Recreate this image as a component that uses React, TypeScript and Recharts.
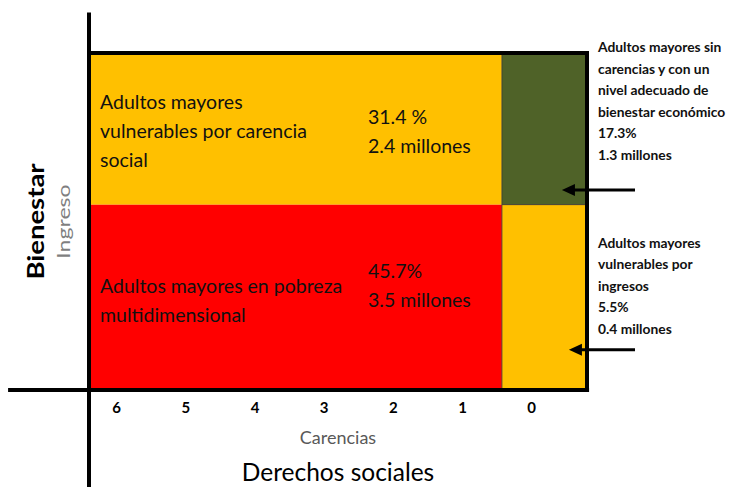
import React from "react";
import {
  ScatterChart,
  XAxis,
  YAxis,
  ReferenceArea,
  ReferenceLine,
} from "recharts";

// eje de carencias sociales (de 6 a 0)
const carencias = [6, 5, 4, 3, 2, 1, 0];
const dominioCarencias: [number, number] = [-0.8, 6.4];
const corteCarencias = 0.43; // entre 1 y 0 carencias
const lineaBienestar = 55; // ingreso: línea de bienestar económico

const grupos = [
  ["Adultos mayores", "vulnerables por carencia", "social"],
  ["Adultos mayores en pobreza", "multidimensional"],
  ["Adultos mayores sin", "carencias y con un", "nivel adecuado de", "bienestar económico"],
  ["Adultos mayores", "vulnerables por", "ingresos"],
];
const porcentajes = ["31.4 %", "45.7%", "17.3%", "5.5%"];
const millones = ["2.4 millones", "3.5 millones", "1.3 millones", "0.4 millones"];
const conCarencias = [true, true, false, false];
const bajoLinea = [false, true, false, true];
const colores = ["#FFC000", "#FF0000", "#4F6228", "#FFC000"];

const FONT = "Lato, 'Open Sans', sans-serif";

// offsets de texto dentro de cada celda
const layoutInterior = [
  { titulo: 56, pct: 71 },
  { titulo: 88, pct: 73 },
];
// anotaciones fuera del recuadro (texto + flecha)
const layoutExterior = [
  { texto: -1, flecha: 137, punta: 60 },
  { texto: 43, flecha: 145, punta: 67 },
];

function CeldaTexto({ viewBox, i }: any) {
  const { x, y, width } = viewBox;
  if (i < 2) {
    const l = layoutInterior[i];
    return (
      <g fontFamily={FONT} fontSize={19.5} fill="#111">
        {grupos[i].map((t, k) => (
          <text key={k} x={x + 11} y={y + l.titulo + k * 29}>
            {t}
          </text>
        ))}
        <text x={x + 279} y={y + l.pct}>
          {porcentajes[i]}
        </text>
        <text x={x + 279} y={y + l.pct + 29}>
          {millones[i]}
        </text>
      </g>
    );
  }
  const l = layoutExterior[i - 2];
  const lineas = [...grupos[i], porcentajes[i], millones[i]];
  const tx = x + width + 11;
  const ay = y + l.flecha;
  const tip = x + l.punta;
  const tail = x + width + 48;
  return (
    <g fontFamily={FONT} fontSize={13.8} fontWeight={700} fill="#111">
      {lineas.map((t, k) => (
        <text key={k} x={tx} y={y + l.texto + k * 21.6}>
          {t}
        </text>
      ))}
      <line x1={tail} y1={ay} x2={tip + 8} y2={ay} stroke="#000" strokeWidth={3} />
      <polygon
        points={`${tip},${ay} ${tip + 13},${ay - 6} ${tip + 13},${ay + 6}`}
        fill="#000"
      />
    </g>
  );
}

function TitulosX({ viewBox }: any) {
  const cx = viewBox.x + viewBox.width / 2;
  return (
    <g fontFamily={FONT} textAnchor="middle">
      <text x={cx} y={viewBox.y + 54} fontSize={18} fill="#595959">
        Carencias
      </text>
      <text x={cx} y={viewBox.y + 91} fontSize={24.5} fill="#000">
        Derechos sociales
      </text>
    </g>
  );
}

function TitulosY({ viewBox }: any) {
  const cy = viewBox.y + viewBox.height / 2;
  return (
    <g fontFamily={FONT} textAnchor="middle">
      <text
        x={0}
        y={0}
        fontSize={22}
        fontWeight={700}
        fill="#000"
        transform={`translate(44, ${cy}) rotate(-90) scale(1.25, 1)`}
      >
        Bienestar
      </text>
      <text
        x={0}
        y={0}
        fontSize={17.5}
        fill="#7f7f7f"
        transform={`translate(70, ${cy}) rotate(-90) scale(1.32, 1)`}
      >
        Ingreso
      </text>
    </g>
  );
}

export default function App() {
  const [xMin, xMax] = dominioCarencias;
  return (
    <div style={{ position: "absolute", left: 0, top: 0, background: "#fff" }}>
      <ScatterChart
        width={731}
        height={487}
        margin={{ top: 53, right: 144, bottom: 0, left: 0 }}
      >
        <XAxis
          type="number"
          dataKey="x"
          domain={dominioCarencias}
          reversed
          ticks={carencias}
          allowDataOverflow
          axisLine={false}
          tickLine={false}
          tickMargin={6}
          height={97}
          tick={{ fontSize: 15, fontWeight: 700, fill: "#000", fontFamily: FONT }}
          label={(p: any) => <TitulosX viewBox={p.viewBox} />}
        />
        <YAxis
          type="number"
          dataKey="y"
          domain={[0, 100]}
          allowDataOverflow
          width={89}
          tick={false}
          axisLine={false}
          tickLine={false}
          label={(p: any) => <TitulosY viewBox={p.viewBox} />}
        />
        {grupos.map((_, i) => (
          <ReferenceArea
            key={i}
            x1={conCarencias[i] ? xMax : corteCarencias}
            x2={conCarencias[i] ? corteCarencias : xMin}
            y1={bajoLinea[i] ? 0 : lineaBienestar}
            y2={bajoLinea[i] ? lineaBienestar : 100}
            fill={colores[i]}
            fillOpacity={1}
            stroke={conCarencias[i] ? "none" : "#3a3a3a"}
            strokeWidth={0.8}
            label={(p: any) => <CeldaTexto viewBox={p.viewBox} i={i} />}
          />
        ))}
        <ReferenceArea
          x1={xMax}
          x2={xMin}
          y1={0}
          y2={100}
          fill="none"
          stroke="#000"
          strokeWidth={4}
        />
        <ReferenceLine
          segment={[
            { x: xMax, y: 112 },
            { x: xMax, y: -29 },
          ]}
          stroke="#000"
          strokeWidth={4}
          ifOverflow="visible"
        />
        <ReferenceLine
          segment={[
            { x: 7.57, y: 0 },
            { x: xMin - 0.03, y: 0 },
          ]}
          stroke="#000"
          strokeWidth={4}
          ifOverflow="visible"
        />
      </ScatterChart>
    </div>
  );
}
